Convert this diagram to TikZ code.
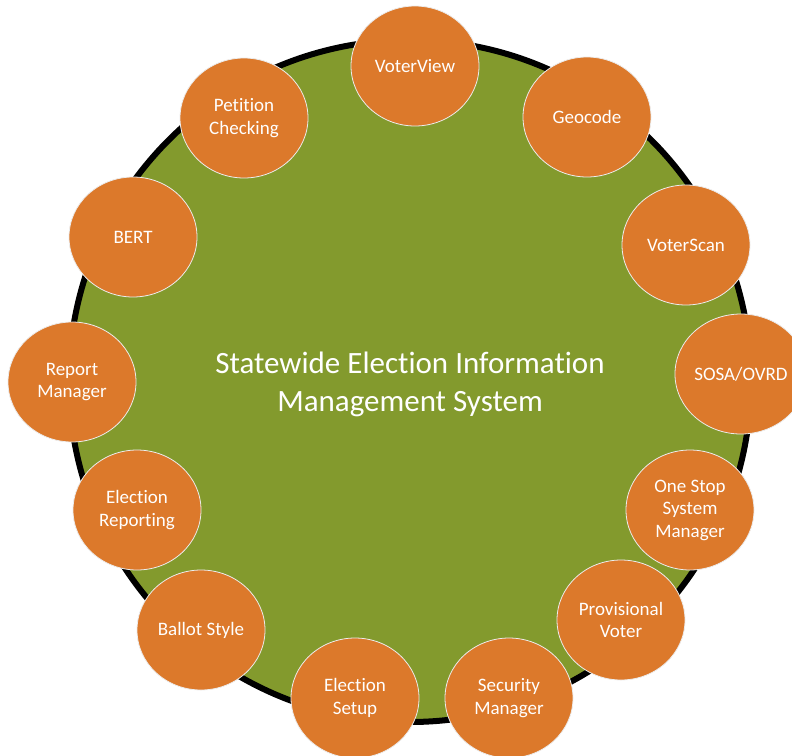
\documentclass[tikz,border=0pt]{standalone}
\usepackage{fontspec}
\setmainfont{Carlito}[RawFeature={-liga;-clig;-calt}]
\usetikzlibrary{shapes.geometric}

\definecolor{hubgreen}{HTML}{839A2D}
\definecolor{modorange}{HTML}{DC792B}

\begin{document}
\begin{tikzpicture}[
    x=1pt, y=-1pt,
    hub/.style={circle, draw=black, line width=6pt, fill=hubgreen, minimum size=682pt, inner sep=0pt},
    hubtext/.style={text=white, align=center, inner sep=0pt, font=\fontsize{31}{38}\selectfont},
    module/.style={ellipse, draw=white!85!gray, line width=0.8pt, fill=modorange, minimum width=128pt, minimum height=120pt, inner sep=0pt, text=white, align=center, font=\fontsize{19}{22.5}\selectfont}
]
\useasboundingbox (0,0) rectangle (792,755);
\clip (0,0) rectangle (792,755);

% Hub
\node[hub, label={[hubtext, yshift=-3pt]center:Statewide Election Information \\ Management System}] (seims) at (410,381) {};

% Modules around the hub
\node[module] (voterview) at (415,66) {VoterView};
\node[module] (geocode) at (587,117) {Geocode};
\node[module] (voterscan) at (686,245) {VoterScan};
\node[module] (sosa) at (741,374) {SOSA/OVRD};
\node[module] (onestop) at (690,510) {One Stop \\ System \\ Manager};
\node[module] (provisional) at (621,620) {Provisional \\ Voter};
\node[module] (security) at (509,698) {Security \\ Manager};
\node[module] (setup) at (355,698) {Election \\ Setup};
\node[module] (ballot) at (201,630) {Ballot Style};
\node[module] (reporting) at (137,510) {Election \\ Reporting};
\node[module] (report) at (72,382) {Report \\ Manager};
\node[module] (bert) at (133,237) {BERT};
\node[module] (petition) at (244,118) {Petition \\ Checking};

\end{tikzpicture}
\end{document}
